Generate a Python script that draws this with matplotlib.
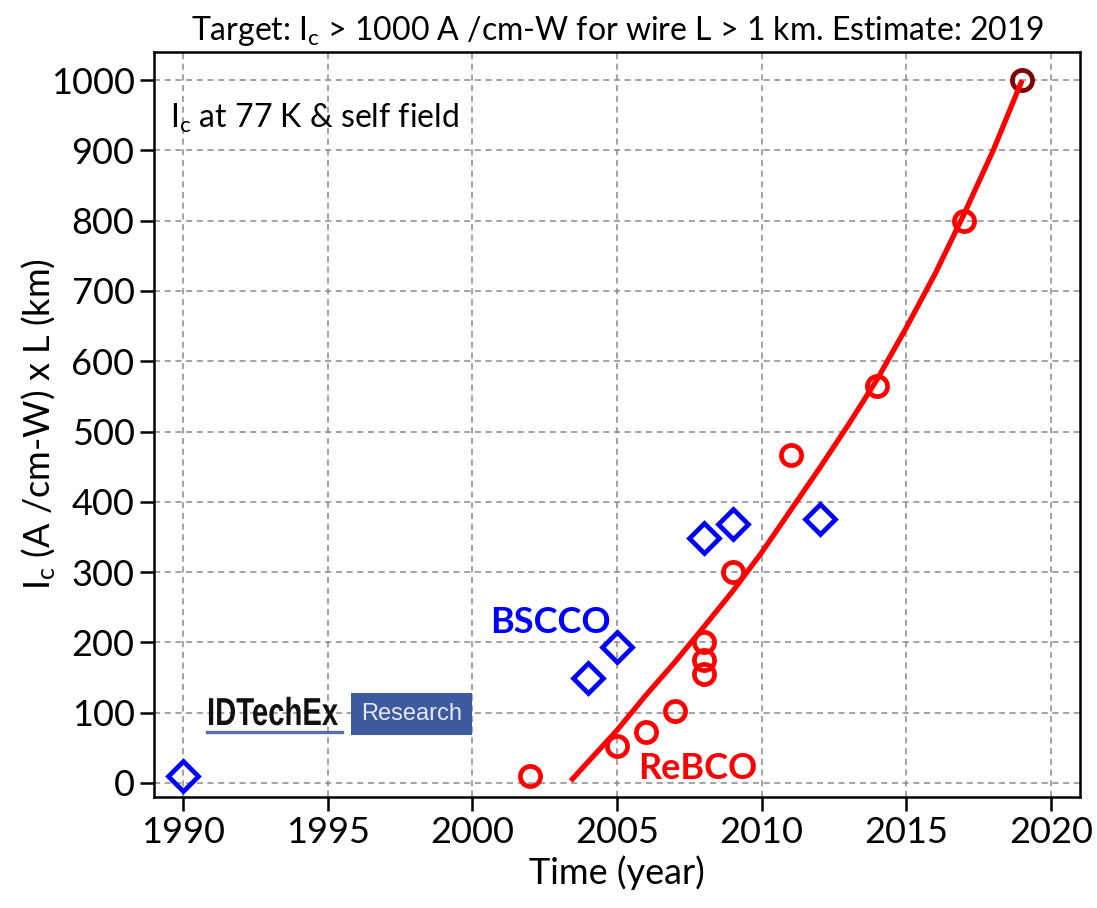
import matplotlib
matplotlib.use("Agg")
import matplotlib.pyplot as plt
from matplotlib.patches import Rectangle, PathPatch
from matplotlib.lines import Line2D
from matplotlib.textpath import TextPath
from matplotlib.font_manager import FontProperties
from matplotlib.transforms import Affine2D

"|***************************************************************************|"
"1|DATA"
# BSCCO wires (blue diamonds)
bscco_year = [1990, 2004, 2005, 2008, 2009, 2012]
bscco_ic   = [10, 150, 194, 348, 368, 375]
# ReBCO wires (red circles)
rebco_year = [2002, 2005, 2006, 2007, 2008, 2008, 2008, 2009, 2011, 2014, 2017]
rebco_ic   = [10, 52, 72, 103, 155, 175, 200, 300, 466, 565, 800]
# Target point
target_year = [2019]
target_ic   = [1000]
# Trend line
trend_year = [2003.4, 2004, 2005, 2006, 2007, 2008, 2009, 2010, 2011, 2012,
              2013, 2014, 2015, 2016, 2017, 2018, 2019]
trend_ic   = [3, 30, 75, 125, 172, 222, 273, 328, 388, 448,
              510, 575, 648, 725, 810, 900, 1000]

x_ticks = [1990, 1995, 2000, 2005, 2010, 2015, 2020]
y_ticks = [0, 100, 200, 300, 400, 500, 600, 700, 800, 900, 1000]

"|***************************************************************************|"
"2|STYLE"
plt.rcParams["font.family"] = ["Lato", "DejaVu Sans"]
plt.rcParams["mathtext.fontset"] = "custom"
plt.rcParams["mathtext.rm"] = "Lato"
plt.rcParams["mathtext.it"] = "Lato:italic"
plt.rcParams["mathtext.bf"] = "Lato:bold"

"|***************************************************************************|"
"3|BUILD FIGURE"
fig = plt.figure(figsize=(10.97, 9.08), dpi=100)
ax = fig.add_axes([0.1404, 0.1222, 0.8441, 0.8205])

### GRID
ax.grid(True, color="#8a8a8a", linestyle=(0, (4, 3)), linewidth=1.1, zorder=0)
ax.set_axisbelow(True)

### DATA
ax.plot(bscco_year, bscco_ic, linestyle="none", marker="D", ms=15,
        mfc="none", mec="#0000ff", mew=3.4, zorder=3)
ax.plot(rebco_year, rebco_ic, linestyle="none", marker="o", ms=14.5,
        mfc="none", mec="#ff0000", mew=3.4, zorder=3)
ax.plot(target_year, target_ic, linestyle="none", marker="o", ms=14.5,
        mfc="none", mec="#800000", mew=3.4, zorder=3)
ax.plot(trend_year, trend_ic, color="#ff0000", linewidth=3.8,
        solid_capstyle="butt", zorder=4)

### AXIS
ax.set_xlim(1989, 2021)
ax.set_ylim(-20, 1040)
ax.set_xticks(x_ticks)
ax.set_yticks(y_ticks)
ax.tick_params(axis="both", which="major", direction="out", length=10,
               width=1.8, labelsize=26, pad=4, top=False, right=False)
for s in ax.spines.values():
    s.set_linewidth(1.8)

ax.set_xlabel("Time (year)", fontsize=26, labelpad=4)
ax.set_ylabel(r"$\mathregular{I_c}$ (A /cm-W) x L (km)", fontsize=26)
ax.yaxis.set_label_coords(-0.104, 0.5)
ax.set_title(r"Target: $\mathregular{I_c}$ > 1000 A /cm-W for wire L > 1 km. "
             r"Estimate: 2019", fontsize=23, pad=9)

### LABELS
ax.text(1989.55, 946, r"$\mathregular{I_c}$ at 77 K & self field",
        fontsize=23, va="center", ha="left")
ax.text(2002.7, 229, "BSCCO", color="#0000ff", fontsize=26,
        fontweight="bold", ha="center", va="center")
ax.text(2007.8, 21, "ReBCO", color="#ff0000", fontsize=26,
        fontweight="bold", ha="center", va="center")

### LOGO (pixel positions, figure dpi = save dpi)
logo_path = TextPath((0, 0), "IDTechEx", size=39,
                     prop=FontProperties(family="Liberation Sans",
                                         weight="bold"))
fig.add_artist(PathPatch(logo_path, facecolor="#111111", edgecolor="none",
                         transform=Affine2D().scale(0.75, 1.0)
                         .translate(207, 908 - 725)))
fig.add_artist(Line2D([0.1887, 0.3117], [0.1938, 0.1938],
                      transform=fig.transFigure, color="#5a6ea6",
                      linewidth=2.4))
fig.add_artist(Rectangle((0.3200, 0.1905), 0.1103, 0.0463,
                         transform=fig.transFigure, facecolor="#3e5a9e",
                         edgecolor="none"))
fig.text(0.3752, 0.2136, "Research", fontsize=17, color="#e4e9f5",
         family=["Liberation Sans"], ha="center", va="center")

fig.savefig("out.png", dpi=100)
